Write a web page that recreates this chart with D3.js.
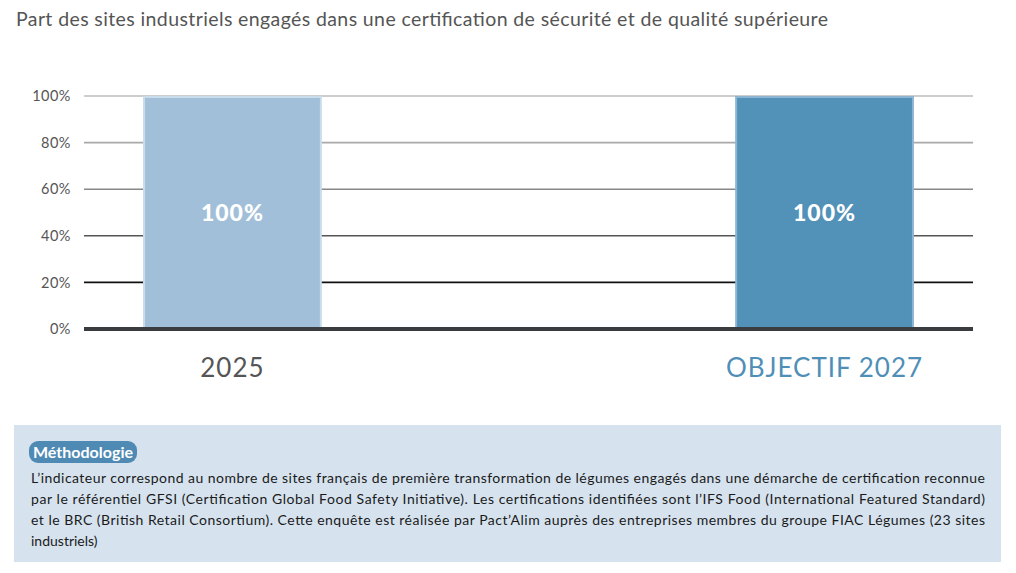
<!DOCTYPE html>
<html>
<head>
<meta charset="utf-8">
<script src="https://cdn.jsdelivr.net/npm/d3@7"></script>
<style>
  body { margin: 0; background: #fff; }
  svg { display: block; font-family: Lato, "Open Sans", sans-serif; }
</style>
</head>
<body>
<div id="chart"></div>
<script>
var categories = ['2025', 'OBJECTIF 2027'];
var values = [1, 1];
var valueLabels = ['100%', '100%'];
var tickValues = [0, 0.2, 0.4, 0.6, 0.8, 1];
var gridColors = ['#3a3d40', '#111111', '#555555', '#888888', '#a9a9a9', '#bdbdbd'];
var barFills = ['#a2bfd9', '#5291b8'];
var barStrokes = ['#c9dcec', '#8db4d2'];
var labelColors = ['#555555', '#4f8fb7'];

var title = 'Part des sites industriels engagés dans une certification de sécurité et de qualité supérieure';
var methodTitle = 'Méthodologie';
var methodLines = [
  'L\u2019indicateur correspond au nombre de sites français de première transformation de légumes engagés dans une démarche de certification reconnue',
  'par le référentiel GFSI (Certification Global Food Safety Initiative). Les certifications identifiées sont l\u2019IFS Food (International Featured Standard)',
  'et le BRC (British Retail Consortium). Cette enquête est réalisée par Pact\u2019Alim auprès des entreprises membres du groupe FIAC Légumes (23 sites',
  'industriels)'
];

var W = 1016, H = 573;
var svg = d3.select('#chart').append('svg')
  .attr('width', W)
  .attr('height', H);

svg.append('text')
  .attr('x', 16)
  .attr('y', 26)
  .attr('fill', '#555')
  .attr('textLength', 812)
  .attr('lengthAdjust', 'spacing')
  .style('font-size', '19.5px')
  .text(title);

var x = d3.scaleBand()
  .domain(categories)
  .range([84, 973])
  .paddingInner(0.698)
  .paddingOuter(0.0997);

var y = d3.scaleLinear()
  .domain([0, 1])
  .range([329, 96]);

// grid lines
svg.selectAll('line.grid')
  .data(tickValues.filter(function(d) { return d > 0; }))
  .enter().append('line')
  .attr('class', 'grid')
  .attr('x1', 84).attr('x2', 973)
  .attr('y1', function(d) { return y(d); })
  .attr('y2', function(d) { return y(d); })
  .attr('stroke', function(d) { return gridColors[tickValues.indexOf(d)]; })
  .attr('stroke-width', 1.6);

// y axis labels
var yAxis = d3.axisLeft(y)
  .tickValues(tickValues)
  .tickFormat(d3.format('.0%'))
  .tickSize(0)
  .tickPadding(0);

var ga = svg.append('g')
  .attr('transform', 'translate(71,0)')
  .call(yAxis);
ga.select('.domain').remove();
ga.selectAll('text')
  .attr('fill', '#555')
  .style('font-size', '14.5px')
  .style('letter-spacing', '0.5px')
  .style('font-family', 'Lato, "Open Sans", sans-serif');

// bars
svg.selectAll('rect.bar')
  .data(values)
  .enter().append('rect')
  .attr('class', 'bar')
  .attr('x', function(d, i) { return x(categories[i]) + 1; })
  .attr('y', function(d) { return y(d) + 1; })
  .attr('width', x.bandwidth() - 2)
  .attr('height', function(d) { return y(0) - y(d) - 1; })
  .attr('fill', function(d, i) { return barFills[i]; })
  .attr('stroke', function(d, i) { return barStrokes[i]; })
  .attr('stroke-width', 2);

// baseline
svg.append('line')
  .attr('x1', 84).attr('x2', 973)
  .attr('y1', y(0)).attr('y2', y(0))
  .attr('stroke', gridColors[0])
  .attr('stroke-width', 4);

// value labels
svg.selectAll('text.val')
  .data(values)
  .enter().append('text')
  .attr('class', 'val')
  .attr('x', function(d, i) { return x(categories[i]) + x.bandwidth() / 2; })
  .attr('y', function(d) { return y(d / 2) + 8; })
  .attr('text-anchor', 'middle')
  .attr('fill', '#fff')
  .style('font-size', '23px')
  .style('font-weight', '900')
  .style('letter-spacing', '1px')
  .text(function(d, i) { return valueLabels[i]; });

// category labels
svg.selectAll('text.cat')
  .data(categories)
  .enter().append('text')
  .attr('class', 'cat')
  .attr('x', function(d) { return x(d) + x.bandwidth() / 2; })
  .attr('y', 377)
  .attr('text-anchor', 'middle')
  .attr('fill', function(d, i) { return labelColors[i]; })
  .style('font-size', '26px')
  .style('letter-spacing', '1px')
  .text(function(d) { return d; });

// methodology box
svg.append('rect')
  .attr('x', 14).attr('y', 425)
  .attr('width', 987).attr('height', 137)
  .attr('fill', '#d6e3ef');

svg.append('rect')
  .attr('x', 29).attr('y', 441)
  .attr('width', 108).attr('height', 22)
  .attr('rx', 9)
  .attr('fill', '#4f8ab5');

svg.append('text')
  .attr('x', 83).attr('y', 458)
  .attr('text-anchor', 'middle')
  .attr('fill', '#fff')
  .attr('textLength', 100)
  .attr('lengthAdjust', 'spacing')
  .style('font-size', '16px')
  .style('font-weight', 'bold')
  .text(methodTitle);

svg.selectAll('text.meth')
  .data(methodLines)
  .enter().append('text')
  .attr('class', 'meth')
  .attr('x', 31)
  .attr('y', function(d, i) { return 483 + i * 21; })
  .attr('fill', '#1a1a1a')
  .style('font-size', '14px')
  .each(function(d, i) {
    if (i < methodLines.length - 1) {
      d3.select(this).attr('textLength', 954).attr('lengthAdjust', 'spacing');
    }
  })
  .text(function(d) { return d; });
</script>
</body>
</html>
